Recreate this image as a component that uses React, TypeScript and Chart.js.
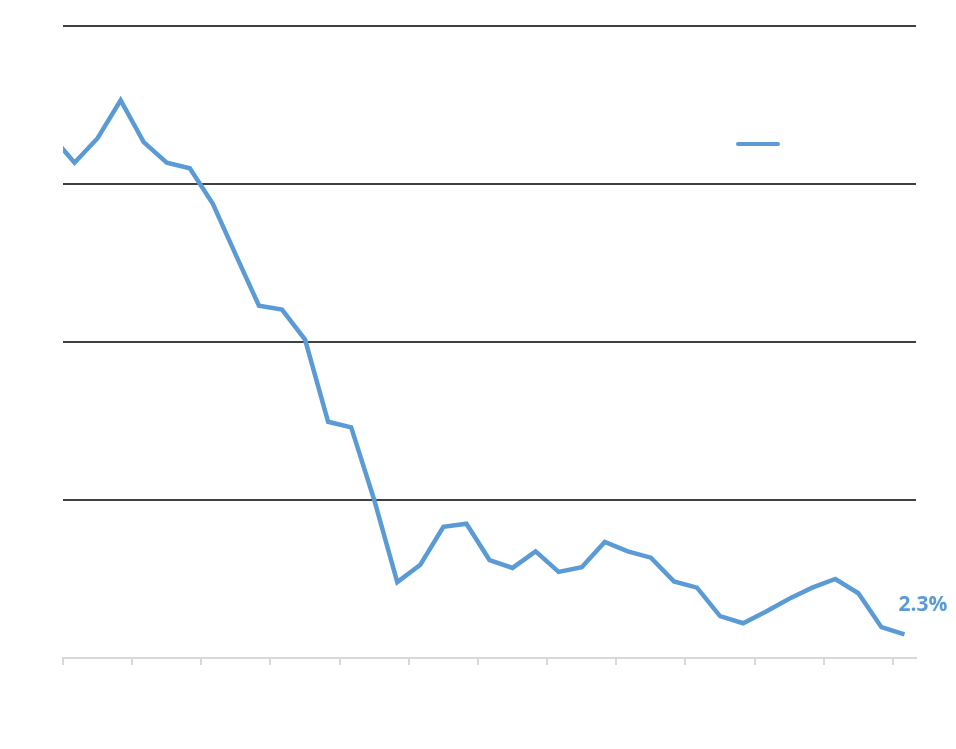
import React, { useEffect, useRef } from "react";
import { Chart, registerables } from "chart.js";

Chart.register(...registerables);

// Period values (index -1 .. 36), percent
const rateValues: number[] = [
  8.61, 8.27, 8.58, 9.06, 8.53, 8.27, 8.2, 7.75, 7.1, 6.46, 6.41, 6.03, 4.99,
  4.92, 4.0, 2.96, 3.18, 3.66, 3.7, 3.24, 3.14, 3.35, 3.09, 3.15, 3.47, 3.35,
  3.27, 2.97, 2.89, 2.53, 2.44, 2.59, 2.75, 2.89, 3.0, 2.82, 2.39, 2.3,
];
const firstIndex = -1;

const xTickLabels: string[] = [
  "2011", "2012", "2013", "2014", "2015", "2016", "2017",
  "2018", "2019", "2020", "2021", "2022", "2023",
];
const yTicks: number[] = [2, 4, 6, 8, 10];
const seriesName = "Unemployment rate";
const lastLabel = "2.3%";

const BLUE = "#5b9bd5";
const FAINT = "#fefefe";

export default function App() {
  const ref = useRef<HTMLCanvasElement | null>(null);

  useEffect(() => {
    if (!ref.current) return;
    const points = rateValues.map((v, i) => ({ x: i + firstIndex, y: v }));

    const overlay = {
      id: "overlay",
      afterDatasetsDraw(chart: any) {
        const ctx = chart.ctx;
        const area = chart.chartArea;
        const meta = chart.getDatasetMeta(0);
        const last = meta.data[meta.data.length - 1];
        ctx.save();
        ctx.font = "bold 21px 'Open Sans', sans-serif";
        ctx.fillStyle = BLUE;
        ctx.textAlign = "left";
        ctx.textBaseline = "middle";
        ctx.fillText(lastLabel, last.x - 6, last.y - 29);
        // legend
        const ly = area.top + 118;
        const lx = area.right - 178;
        ctx.strokeStyle = BLUE;
        ctx.lineWidth = 4;
        ctx.lineCap = "round";
        ctx.beginPath();
        ctx.moveTo(lx, ly);
        ctx.lineTo(lx + 40, ly);
        ctx.stroke();
        ctx.font = "16px 'Open Sans', sans-serif";
        ctx.fillStyle = FAINT;
        ctx.fillText(seriesName, lx + 52, ly);
        ctx.restore();
      },
    };

    const chart = new Chart(ref.current, {
      type: "line",
      data: {
        datasets: [
          {
            label: seriesName,
            data: points,
            borderColor: BLUE,
            borderWidth: 4.5,
            pointRadius: 0,
            tension: 0,
            clip: 0 as any,
          },
        ],
      },
      options: {
        animation: false,
        responsive: true,
        maintainAspectRatio: false,
        layout: { padding: { top: 26, right: 40, left: 0, bottom: 0 } },
        plugins: { legend: { display: false }, tooltip: { enabled: false } },
        scales: {
          x: {
            type: "linear",
            min: -0.5,
            max: 36.5,
            afterBuildTicks: (scale: any) => {
              scale.ticks = xTickLabels.map((_, j) => ({ value: -0.5 + 3 * j }));
            },
            afterFit: (scale: any) => {
              scale.height = 91;
            },
            ticks: {
              autoSkip: false,
              maxRotation: 45,
              minRotation: 45,
              color: FAINT,
              font: { size: 14 },
              callback: (_v: any, i: number) => xTickLabels[i],
            },
            grid: {
              drawOnChartArea: false,
              color: "#d9d9d9",
              lineWidth: 2,
              tickLength: 7,
            },
            border: { color: "#d9d9d9", width: 2 },
          },
          y: {
            min: yTicks[0],
            max: yTicks[yTicks.length - 1],
            afterBuildTicks: (scale: any) => {
              scale.ticks = yTicks.map((v) => ({ value: v }));
            },
            afterFit: (scale: any) => {
              scale.width = 63;
            },
            ticks: {
              color: FAINT,
              font: { size: 14 },
              callback: (v: any) => v + "%",
            },
            grid: {
              color: (c: any) => (c.tick && c.tick.value === yTicks[0] ? "rgba(0,0,0,0)" : "#404040"),
              lineWidth: 2,
              drawTicks: false,
            },
            border: { display: false },
          },
        },
      },
      plugins: [overlay],
    });
    return () => chart.destroy();
  }, []);

  return (
    <div style={{ position: "fixed", left: 0, top: 0, width: 956, height: 749, background: "#fff" }}>
      <canvas ref={ref} />
    </div>
  );
}
